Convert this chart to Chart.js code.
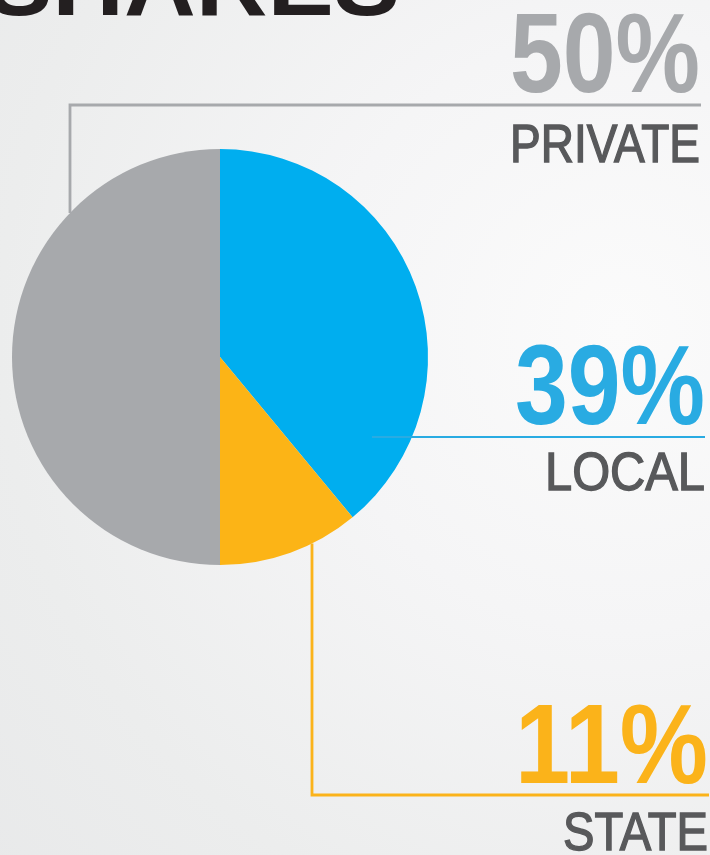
<!DOCTYPE html>
<html>
<head>
<meta charset="utf-8">
<script src="https://cdn.jsdelivr.net/npm/chart.js@4/dist/chart.umd.min.js"></script>
<style>
  html, body { margin: 0; padding: 0; }
  body {
    width: 710px; height: 855px; overflow: hidden;
    background: radial-gradient(circle at 620px 330px, #fbfbfb 0px, #f5f5f6 300px, #eceded 620px, #e7e8e9 900px);
  }
  canvas { display: block; }
</style>
</head>
<body>
<canvas id="pie" width="710" height="855"></canvas>
<script>
/* Share of funding: pie starts at 12 o'clock and runs clockwise. */
var TITLE = "SHARES";
var SEGMENTS = ["LOCAL", "STATE", "PRIVATE"];
var SHARES = [39, 11, 50];
var SLICE_COLORS = ["#00aeef", "#fcb416", "#a7a9ac"];
var PCT_COLORS = ["#29abe2", "#fbb31a", "#a7a9ac"];
var NAME_COLOR = "#58595b";

var SANS = '"Liberation Sans", Arial, sans-serif';

/* where each callout sits: percent baseline / width, rule, name baseline / width, right edge */
var CALLOUT = [
  { pct: 424, pctW: 190, rule: 437, name: 490, nameW: 160, right: 705, from: 372 },   // local
  { pct: 783, pctW: 193, rule: 795, name: 850, nameW: 145, right: 708, stemX: 312 },  // state
  { pct: 92,  pctW: 190, rule: 105, name: 162, nameW: 190, right: 700, stemX: 70 }    // private
];

/* draw right-aligned text squeezed horizontally to a given width (condensed look) */
function fitText(ctx, txt, right, base, w, stroke) {
  var m = ctx.measureText(txt).width;
  ctx.save();
  ctx.translate(right, base);
  ctx.scale(w / m, 1);
  ctx.textAlign = "right";
  ctx.fillText(txt, 0, 0);
  if (stroke) {
    ctx.strokeStyle = ctx.fillStyle;
    ctx.lineWidth = stroke;
    ctx.strokeText(txt, 0, 0);
  }
  ctx.restore();
}

var callouts = {
  id: "callouts",
  afterDatasetsDraw: function (chart) {
    var ctx = chart.ctx;
    var arc = chart.getDatasetMeta(0).data[0];
    var cx = arc.x, cy = arc.y, r = arc.outerRadius;
    ctx.save();
    CALLOUT.forEach(function (c, i) {
      ctx.strokeStyle = PCT_COLORS[i];
      ctx.lineWidth = i === 0 ? 2.2 : 2.8;
      ctx.beginPath();
      if (c.stemX !== undefined) {
        var dy = Math.sqrt(r * r - (c.stemX - cx) * (c.stemX - cx));
        var edge = c.rule < cy ? cy - dy : cy + dy;
        ctx.moveTo(c.stemX, edge);
        ctx.lineTo(c.stemX, c.rule);
        ctx.lineTo(c.right + 1, c.rule);
      } else {
        ctx.moveTo(c.from, c.rule);
        ctx.lineTo(c.right, c.rule);
      }
      ctx.stroke();
    });
    ctx.restore();
  },
  afterDraw: function (chart) {
    var ctx = chart.ctx;
    ctx.save();
    ctx.textBaseline = "alphabetic";
    CALLOUT.forEach(function (c, i) {
      ctx.fillStyle = PCT_COLORS[i];
      ctx.font = "bold 114px " + SANS;
      fitText(ctx, SHARES[i] + "%", c.right, c.pct, c.pctW);
      ctx.fillStyle = NAME_COLOR;
      ctx.font = "53px " + SANS;
      fitText(ctx, SEGMENTS[i], c.right, c.name, c.nameW, 1.4);
    });
    // title, cropped by the top edge
    ctx.textAlign = "left";
    ctx.fillStyle = "#231f20";
    ctx.font = "bold 92px " + SANS;
    var tw = ctx.measureText(TITLE).width;
    ctx.translate(-14, 15);
    ctx.scale(414 / tw, 1);
    ctx.fillText(TITLE, 0, 0);
    ctx.restore();
  }
};

new Chart(document.getElementById("pie"), {
  type: "pie",
  data: {
    labels: SEGMENTS,
    datasets: [{
      data: SHARES,
      backgroundColor: SLICE_COLORS,
      borderWidth: 0,
      hoverOffset: 0
    }]
  },
  options: {
    responsive: false,
    animation: false,
    events: [],
    layout: { padding: { left: 12, top: 149, right: 282, bottom: 290 } },
    plugins: { legend: { display: false }, tooltip: { enabled: false } }
  },
  plugins: [callouts]
});
</script>
</body>
</html>
